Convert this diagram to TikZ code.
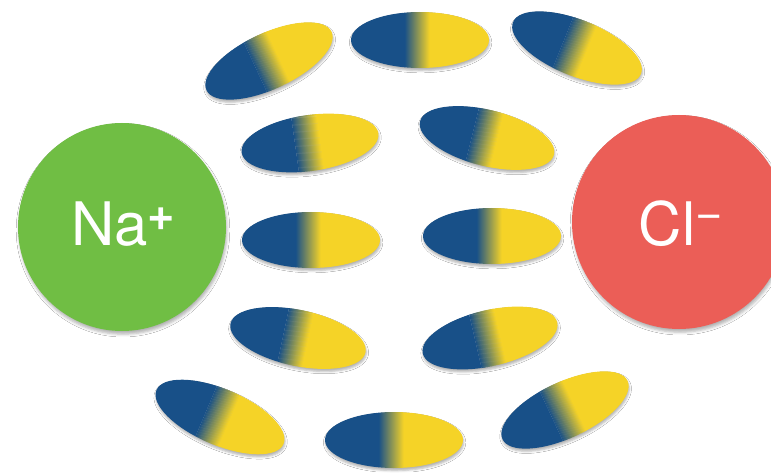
\documentclass[tikz,border=0pt]{standalone}
\usepackage{fontspec}
\setmainfont{TeX Gyre Heros}
\usetikzlibrary{shadows.blur}
\definecolor{molblue}{RGB}{24,80,136}
\definecolor{molyellow}{RGB}{245,211,39}
\definecolor{nagreen}{RGB}{112,190,68}
\definecolor{clred}{RGB}{235,94,87}
\tikzset{
  molshadow/.style={blur shadow={shadow xshift=0.6pt, shadow yshift=-2.6pt, shadow blur radius=2.2pt, shadow opacity=30}},
  ion/.style={circle, inner sep=0pt,
    blur shadow={shadow xshift=1pt, shadow yshift=-3.2pt, shadow blur radius=2.8pt, shadow opacity=30}},
  iontext/.style={anchor=base, text=white, inner sep=0pt, font=\fontsize{60}{60}\selectfont}
}
\newcommand\molat[4]{%
  \begin{scope}[shift={(#2,#3)}, rotate=#4]
    \coordinate (#1) at (0,0);
    \path[molshadow] (0,0) ellipse (69 and 28);
    \begin{scope}
      \clip (0,0) ellipse (69 and 28);
      \fill[molblue] (-70,-30) rectangle (-15,30);
      \foreach \i in {0,...,24}{%
        \pgfmathtruncatemacro\p{4*\i+2}%
        \fill[molyellow!\p!molblue] ({-15+\i},-30) rectangle ({-13.7+\i},30);
      }
      \fill[molyellow] (10,-30) rectangle (70,30);
    \end{scope}
  \end{scope}}
\begin{document}
\begin{tikzpicture}[x=1pt,y=1pt]
\useasboundingbox (0,0) rectangle (771,472);
\clip (0,0) rectangle (771,472);
\fill[white] (0,0) rectangle (771,472);
% ions
\node[ion, fill=nagreen, minimum size=208pt] (na) at (122,245) {};
\node[ion, fill=clred, minimum size=214pt] (cl) at (679,250) {};
\node[iontext] (natext) at (123.5,227) {Na\raisebox{15pt}{\fontsize{47}{47}\selectfont\bfseries +}};
\node[iontext] (cltext) at (681,227) {Cl\raisebox{16pt}{\fontsize{47}{47}\selectfont \symbol{"2212}}};
% water molecules
\molat{m1}{269}{411}{25}
\molat{m2}{420}{432}{0}
\molat{m3}{577}{424}{-22}
\molat{m4}{310}{329}{8}
\molat{m5}{487}{334}{-14}
\molat{m6}{311}{232}{0}
\molat{m7}{492}{236}{0}
\molat{m8}{298}{134}{-12}
\molat{m9}{490}{134}{13}
\molat{m10}{220}{55}{-23}
\molat{m11}{394}{32}{0}
\molat{m12}{565}{62}{25}
\end{tikzpicture}
\end{document}
